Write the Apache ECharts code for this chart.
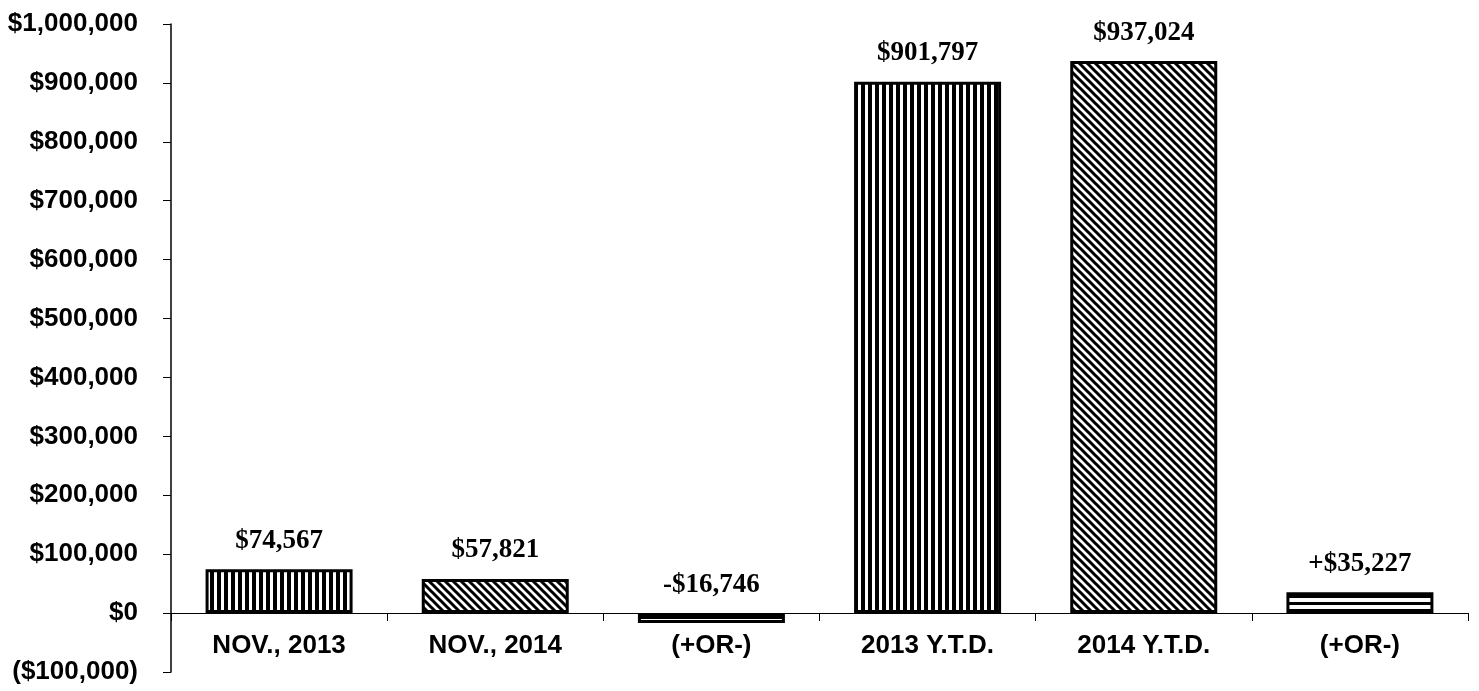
<!DOCTYPE html>
<html>
<head>
<meta charset="utf-8">
<script src="https://cdn.jsdelivr.net/npm/echarts@6/dist/echarts.min.js"></script>
<style>
  html, body { margin: 0; padding: 0; background: #fff; }
  #chart { width: 1479px; height: 691px; }
</style>
</head>
<body>
<div id="chart"></div>
<script>
// chart data
const categories = ['NOV., 2013', 'NOV., 2014', '(+OR-)', '2013 Y.T.D.', '2014 Y.T.D.', '(+OR-)']
const values = [74567, 57821, -16746, 901797, 937024, 35227]
const isChange = [false, false, true, false, false, true]
const patterns = ['vertical', 'diagonal', 'horizontal', 'vertical', 'diagonal', 'horizontal']
const yMin = -100000
const yMax = 1000000
const yStep = 100000

function makePattern (kind) {
  const c = document.createElement('canvas')
  const ctx = c.getContext('2d')
  if (kind === 'vertical') {
    c.width = 7; c.height = 7
    ctx.fillStyle = '#fff'; ctx.fillRect(0, 0, 7, 7)
    ctx.fillStyle = '#000'; ctx.fillRect(0, 0, 4, 7)
  } else if (kind === 'diagonal') {
    c.width = 8; c.height = 8
    ctx.fillStyle = '#fff'; ctx.fillRect(0, 0, 8, 8)
    ctx.strokeStyle = '#000'; ctx.lineWidth = 3
    ctx.beginPath()
    ctx.moveTo(-2, -2); ctx.lineTo(10, 10)
    ctx.moveTo(-10, -2); ctx.lineTo(2, 10)
    ctx.moveTo(6, -2); ctx.lineTo(18, 10)
    ctx.stroke()
  } else {
    c.width = 7; c.height = 7
    ctx.fillStyle = '#fff'; ctx.fillRect(0, 0, 7, 7)
    ctx.fillStyle = '#000'; ctx.fillRect(0, 0, 7, 3)
  }
  return { image: c, repeat: 'repeat' }
}

function money (v) {
  return '$' + Math.abs(v).toLocaleString('en-US')
}

const chart = echarts.init(document.getElementById('chart'))

// grid spans yMin..yMax; x axis sits on the zero line
const gridTop = 24
const gridBottom = 19
const plotH = 691 - gridTop - gridBottom
const zeroOffset = Math.round(plotH * (0 - yMin) / (yMax - yMin))

chart.setOption({
  backgroundColor: '#fff',
  animation: false,
  grid: {
    left: 171,
    right: 11,
    top: gridTop,
    bottom: gridBottom,
    containLabel: false,
    outerBoundsMode: 'none'
  },
  xAxis: {
    type: 'category',
    data: categories,
    offset: -zeroOffset,
    axisLine: { onZero: false, lineStyle: { color: '#000', width: 1 } },
    axisTick: { show: true, length: 8, lineStyle: { color: '#000' } },
    axisLabel: {
      color: '#000',
      fontFamily: 'Liberation Sans, Arial, sans-serif',
      fontWeight: 'bold',
      fontSize: 26,
      margin: 20
    }
  },
  yAxis: {
    type: 'value',
    min: yMin,
    max: yMax,
    interval: yStep,
    splitLine: { show: false },
    axisLine: { show: true, lineStyle: { color: '#000', width: 1.5 } },
    axisTick: { show: true, length: 8, lineStyle: { color: '#000' } },
    axisLabel: {
      color: '#000',
      fontFamily: 'Liberation Sans, Arial, sans-serif',
      fontWeight: 'bold',
      fontSize: 26,
      margin: 33,
      formatter: v => v < 0 ? '(' + money(v) + ')' : money(v)
    }
  },
  series: [{
    type: 'bar',
    barWidth: '68%',
    data: values.map((v, i) => ({
      value: v,
      itemStyle: {
        color: makePattern(patterns[i]),
        borderColor: '#000',
        borderWidth: 3
      }
    })),
    label: {
      show: true,
      position: 'top',
      distance: 15,
      color: '#000',
      fontFamily: 'Liberation Serif, Times New Roman, serif',
      fontWeight: 'bold',
      fontSize: 27,
      formatter: p => {
        const v = p.value
        if (isChange[p.dataIndex]) return (v < 0 ? '-' : '+') + money(v)
        return money(v)
      }
    }
  }]
})
</script>
</body>
</html>
